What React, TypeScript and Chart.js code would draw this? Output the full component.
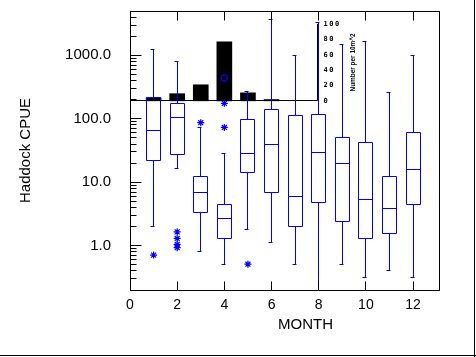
import React, { useEffect, useRef } from 'react';
import { Chart, registerables } from 'chart.js';

Chart.register(...registerables);

// ---- data ----
const months = [1, 2, 3, 4, 5, 6, 7, 8, 9, 10, 11, 12];
const whiskerLow = [2.0, 16.7, 0.82, 0.51, 1.82, 1.13, 0.51, 0.1, 0.51, 0.31, 0.41, 0.31];
const quartile1 = [22.4, 27.8, 3.37, 1.31, 14.4, 6.98, 2.02, 4.85, 2.43, 1.31, 1.55, 4.44];
const medians = [66.5, 103, 6.8, 2.64, 28.1, 40, 6.0, 29.9, 20.0, 5.4, 3.9, 16.1];
const quartile3 = [213, 171, 12.5, 4.5, 99, 138, 111, 115, 51.5, 43, 12.3, 59.7];
const whiskerHigh = [1222, 789, 71.6, 28.8, 265, 3636, 1000, 3260, 1497, 1670, 261, 982];

const outlierMonths = [1, 2, 2, 2, 2, 3, 4, 4, 5];
const outlierValues = [0.71, 1.65, 1.3, 1.05, 0.93, 86.7, 175, 73, 0.51];
const farOutlierMonths = [4];
const farOutlierValues = [441];

const densityMonths = [1, 2, 3, 4, 5, 6];
const densityValues = [3.9, 9.3, 20.9, 76.9, 10.4, 1.7];
const densityAxisMonth = 8;
const densityTicks = [0, 20, 40, 60, 80, 100];
const densityLabel = 'Number per 10m^2';

const xTickValues = [0, 2, 4, 6, 8, 10, 12];
const yMajorTicks = [1, 10, 100, 1000];
const yMinorTicks = [
  0.2, 0.3, 0.4, 0.5, 0.6, 0.7, 0.8, 0.9,
  2, 3, 4, 5, 6, 7, 8, 9,
  20, 30, 40, 50, 60, 70, 80, 90,
  200, 300, 400, 500, 600, 700, 800, 900,
  2000, 3000, 4000, 5000,
];
const xTitle = 'MONTH';
const yTitle = 'Haddock CPUE';

const FONT = "'Liberation Sans', Arial, sans-serif";
const BLUE = '#0000ff';

export default function App() {
  const ref = useRef<HTMLCanvasElement>(null);

  useEffect(() => {
    const crisp = (v: number) => Math.round(v - 0.5) + 0.5;

    const drawPlugin = {
      id: 'boxplotDecor',
      afterDatasetsDraw(chart: any) {
        const { ctx, chartArea: a, scales } = chart;
        const xs = scales.x;
        const ys = scales.y;
        const y2 = scales.y2;
        ctx.save();

        // inset density axis + baseline
        const ax = crisp(xs.getPixelForValue(densityAxisMonth)) - 1;
        const base = crisp(y2.getPixelForValue(0));
        ctx.strokeStyle = '#000';
        ctx.lineWidth = 1;
        ctx.beginPath();
        ctx.moveTo(a.left, base);
        ctx.lineTo(ax, base);
        ctx.moveTo(ax, base);
        ctx.lineTo(ax, Math.round(y2.getPixelForValue(100)));
        ctx.stroke();

        // box plots: boxes, whiskers, caps, medians
        ctx.save();
        ctx.beginPath();
        ctx.rect(a.left, a.top, a.right - a.left, a.bottom - a.top);
        ctx.clip();
        ctx.strokeStyle = BLUE;
        ctx.lineWidth = 1;
        months.forEach((m, i) => {
          const x = crisp(xs.getPixelForValue(m));
          const yHi = crisp(ys.getPixelForValue(whiskerHigh[i]));
          const yLo = crisp(ys.getPixelForValue(whiskerLow[i]));
          const yQ1 = crisp(ys.getPixelForValue(quartile1[i]));
          const yQ3 = crisp(ys.getPixelForValue(quartile3[i]));
          const yMed = crisp(ys.getPixelForValue(medians[i]));
          ctx.beginPath();
          ctx.rect(x - 7, yQ3, 14, yQ1 - yQ3);
          ctx.moveTo(x, yQ3);
          ctx.lineTo(x, yHi);
          ctx.moveTo(x - 3, yHi);
          ctx.lineTo(x + 1, yHi);
          ctx.moveTo(x, yQ1);
          ctx.lineTo(x, yLo);
          ctx.moveTo(x - 3, yLo);
          ctx.lineTo(x + 1, yLo);
          ctx.moveTo(x - 7, yMed);
          ctx.lineTo(x + 7, yMed);
          ctx.stroke();
        });
        ctx.restore();

        // frame
        ctx.strokeStyle = '#000';
        ctx.lineWidth = 1;
        const L = crisp(a.left), T = crisp(a.top), R = crisp(a.right), B = crisp(a.bottom);
        ctx.strokeRect(L, T, R - L, B - T);
        ctx.beginPath();
        [...yMinorTicks, ...yMajorTicks].forEach((v) => {
          const y = crisp(ys.getPixelForValue(v));
          const len = yMajorTicks.includes(v) ? 11 : 6;
          ctx.moveTo(L, y);
          ctx.lineTo(L + len, y);
        });
        xTickValues.forEach((v) => {
          if (v === 0) return;
          const x = crisp(xs.getPixelForValue(v));
          ctx.moveTo(x, B);
          ctx.lineTo(x, B - 9);
          ctx.moveTo(x, T);
          ctx.lineTo(x, T + 9);
        });
        ctx.stroke();

        // inset tick labels
        ctx.fillStyle = '#000';
        ctx.font = "bold 7px 'DejaVu Sans Mono', monospace";
        (ctx as any).letterSpacing = '1.5px';
        ctx.textAlign = 'left';
        ctx.textBaseline = 'middle';
        densityTicks.forEach((v) => {
          ctx.fillText(String(v), ax + 6, Math.round(y2.getPixelForValue(v)) + 0.5);
        });
        (ctx as any).letterSpacing = '0px';

        // inset axis title
        ctx.save();
        ctx.translate(ax + 35, y2.getPixelForValue(50));
        ctx.rotate(-Math.PI / 2);
        ctx.font = `bold 8px ${FONT}`;
        ctx.textAlign = 'center';
        ctx.textBaseline = 'middle';
        ctx.fillText(densityLabel, 0, 0, 58);
        ctx.restore();

        // x axis title
        ctx.font = `15px ${FONT}`;
        ctx.textAlign = 'center';
        ctx.textBaseline = 'middle';
        ctx.fillText(xTitle, (a.left + a.right) / 2 + 21, a.bottom + 35);

        // outer border (right & bottom)
        ctx.fillRect(474, 0, 1, chart.height);
        ctx.fillRect(0, 355, chart.width, 1);
        ctx.restore();
      },
    };

    const chart = new Chart(ref.current as HTMLCanvasElement, {
      type: 'bar',
      data: {
        datasets: [
          {
            type: 'scatter',
            label: 'outliers',
            data: outlierMonths.map((m, i) => ({ x: m, y: outlierValues[i] })),
            yAxisID: 'y',
            pointStyle: 'star',
            radius: 3.5,
            borderColor: BLUE,
            backgroundColor: BLUE,
            borderWidth: 1.2,
            order: 1,
          } as any,
          {
            type: 'scatter',
            label: 'far outliers',
            data: farOutlierMonths.map((m, i) => ({ x: m, y: farOutlierValues[i] })),
            yAxisID: 'y',
            pointStyle: 'circle',
            radius: 3,
            borderColor: BLUE,
            backgroundColor: 'rgba(0,0,0,0)',
            borderWidth: 1.2,
            order: 1,
          } as any,
          {
            type: 'bar',
            label: densityLabel,
            data: densityMonths.map((m, i) => ({ x: m, y: densityValues[i] })),
            yAxisID: 'y2',
            backgroundColor: '#000',
            borderWidth: 0,
            barThickness: 15,
            grouped: false,
            order: 3,
          } as any,
        ],
      },
      options: {
        responsive: false,
        animation: false,
        devicePixelRatio: 1,
        layout: { padding: { left: 0, top: 11, right: 37, bottom: 0 } },
        plugins: { legend: { display: false }, tooltip: { enabled: false } },
        scales: {
          x: {
            type: 'linear',
            min: 0,
            max: 13.1,
            offset: false,
            grid: { display: false, drawTicks: false },
            border: { display: false },
            ticks: {
              color: '#000',
              font: { family: FONT, size: 14 },
              padding: 7,
              maxRotation: 0,
              autoSkip: false,
              callback: (v: any) => String(v),
            },
            afterBuildTicks: (s: any) => {
              s.ticks = xTickValues.map((v) => ({ value: v }));
            },
            afterFit: (s: any) => {
              s.height = 67;
              s.paddingLeft = 0;
              s.paddingRight = 0;
            },
          },
          y: {
            type: 'logarithmic',
            position: 'left',
            min: 0.2,
            max: 5000,
            grid: { display: false, drawTicks: false },
            border: { display: false },
            ticks: {
              color: '#000',
              font: { family: FONT, size: 15 },
              padding: 19,
              autoSkip: false,
              callback: (v: any) => (yMajorTicks.includes(Number(v)) ? Number(v).toFixed(1) : ''),
            },
            afterBuildTicks: (s: any) => {
              s.ticks = [...yMinorTicks, ...yMajorTicks]
                .sort((p, q) => p - q)
                .map((v) => ({ value: v, major: yMajorTicks.includes(v) }));
            },
            afterFit: (s: any) => {
              s.width = 130;
              s.paddingTop = 0;
              s.paddingBottom = 0;
            },
            title: {
              display: true,
              text: yTitle,
              color: '#000',
              font: { family: FONT, size: 15 },
              padding: { top: 17, bottom: 0 },
            },
          },
          y2: {
            type: 'linear',
            display: false,
            min: -246.4,
            max: 117,
          },
        },
      } as any,
      plugins: [drawPlugin],
    });
    return () => chart.destroy();
  }, []);

  return (
    <div style={{ position: 'absolute', left: 0, top: 0, width: 476, height: 357, background: '#fff' }}>
      <canvas ref={ref} width={476} height={357} style={{ display: 'block' }} />
    </div>
  );
}
